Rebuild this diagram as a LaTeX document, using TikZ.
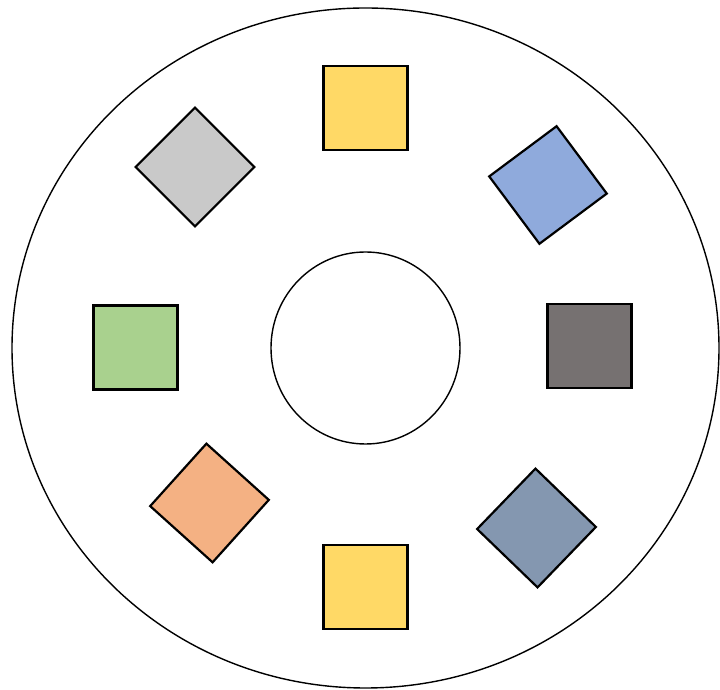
\documentclass[tikz,border=0pt]{standalone}
\usetikzlibrary{shapes.geometric}
\definecolor{cyellow}{HTML}{FFD966}
\definecolor{cgray}{HTML}{C9C9C9}
\definecolor{cblue}{HTML}{8FAADC}
\definecolor{cdark}{HTML}{767171}
\definecolor{cgreen}{HTML}{A9D18E}
\definecolor{corange}{HTML}{F4B183}
\definecolor{cslate}{HTML}{8497B0}
\begin{document}
\begin{tikzpicture}[x=1pt,y=1pt,
  sq/.style={draw=black, line width=2.2pt, minimum size=84pt, inner sep=0pt, outer sep=0pt},
  ring/.style={draw=black, line width=1.4pt, ellipse, inner sep=0pt}]
\useasboundingbox (0,0) rectangle (720,690);
\node[ring, minimum width=707pt, minimum height=680pt] (outer) at (365.5,342) {};
\node[ring, minimum width=189pt, minimum height=192pt] (inner) at (365.5,342) {};
\node[sq, fill=cyellow] (top) at (365.5,582) {};
\node[sq, fill=cyellow] (bottom) at (365.5,103) {};
\node[sq, fill=cgreen] (left) at (135.5,342.5) {};
\node[sq, fill=cdark] (right) at (589.5,344) {};
\node[sq, fill=cgray, rotate=45] (tl) at (195,523) {};
\node[sq, fill=cblue, rotate=36.7] (tr) at (548,505) {};
\node[sq, fill=corange, rotate=48] (bl) at (209.5,187) {};
\node[sq, fill=cslate, rotate=46] (br) at (536.5,162) {};
\end{tikzpicture}
\end{document}
